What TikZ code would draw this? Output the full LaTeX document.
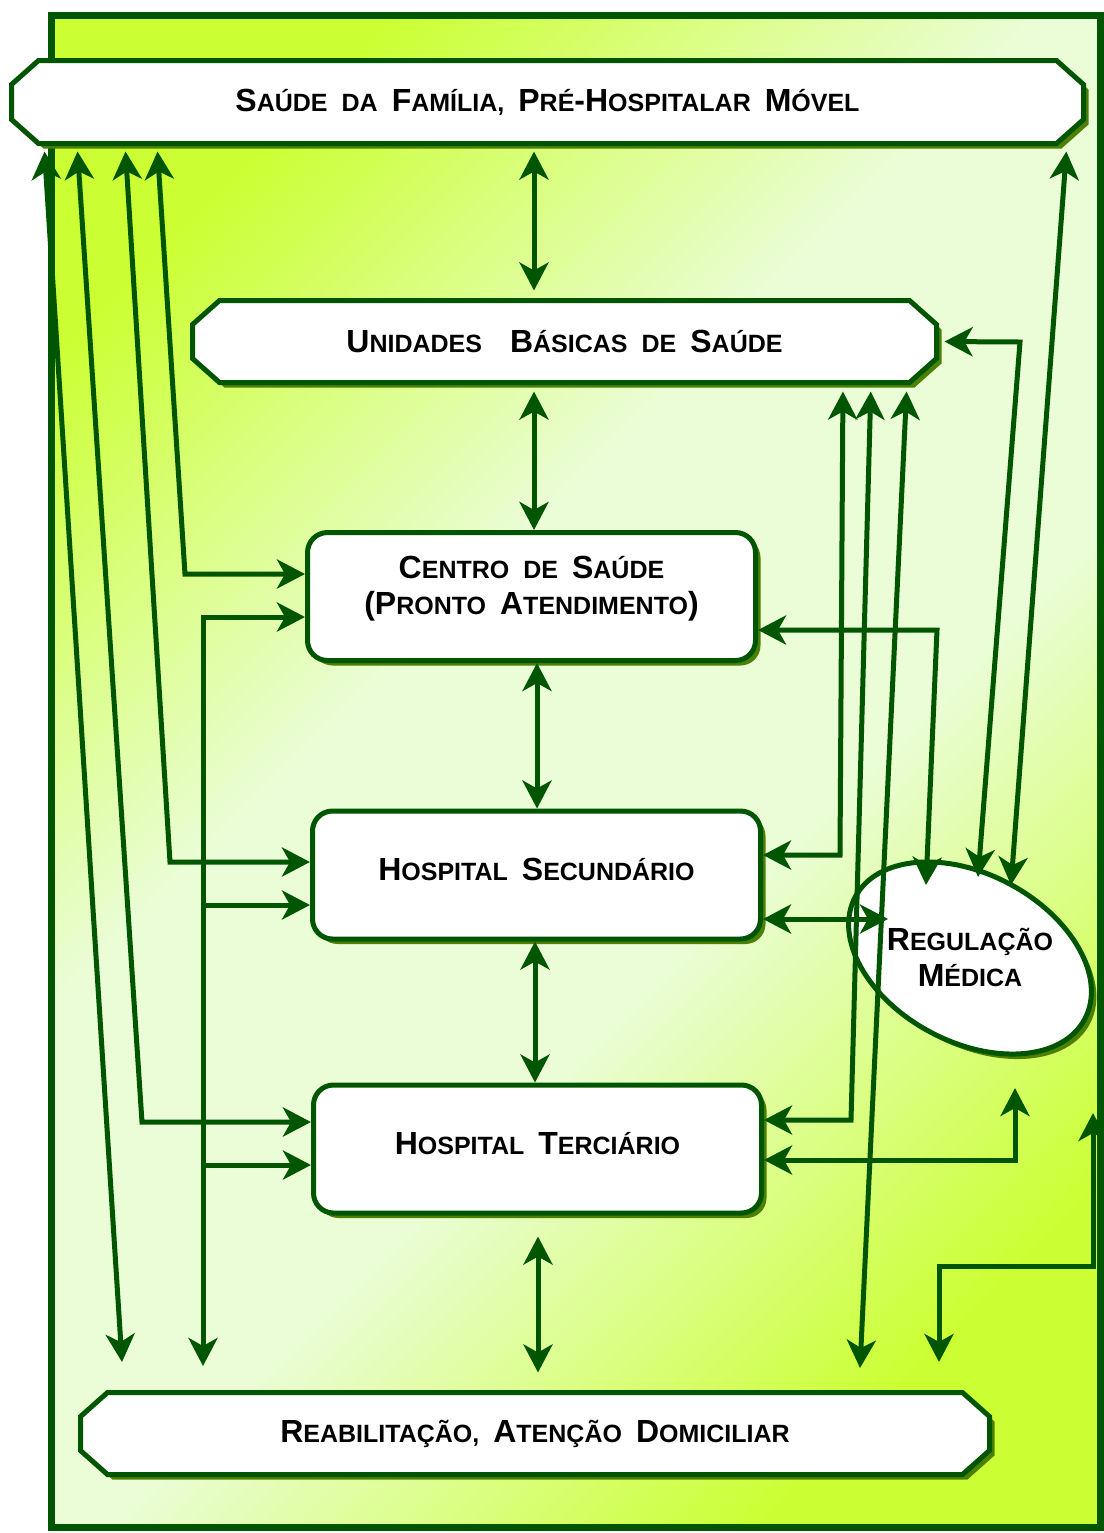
\documentclass[tikz,border=0pt]{standalone}
\usepackage{fontspec}
\setmainfont{Liberation Sans}
\usetikzlibrary{arrows.meta, shadows}

\definecolor{leaf}{RGB}{0,85,0}
\definecolor{moss}{RGB}{76,128,0}
\definecolor{limebright}{RGB}{204,255,51}
\definecolor{limepale}{RGB}{234,253,214}

\pgfdeclarehorizontalshading{diagfade}{100bp}{color(0bp)=(limebright); color(24bp)=(limebright);
  color(42bp)=(limepale); color(58bp)=(limepale); color(76bp)=(limebright); color(100bp)=(limebright)}

\pgfdeclarelayer{ground}
\pgfdeclarelayer{boxes}
\pgfsetlayers{ground,boxes,main}

\newcommand\sC[2]{#1{\fontsize{12.5}{15}\selectfont #2}}
\newcommand\sm[1]{{\fontsize{12.5}{15}\selectfont #1}}
\newcommand\gap{\hspace{7pt}}
% octagon behind a banner node
\newcommand\octagon[1]{%
  \path[octa] ([xshift=13.5pt]#1.north west) -- ([xshift=-13.5pt]#1.north east)
    -- ([yshift=-12pt]#1.north east) -- ([yshift=12pt]#1.south east)
    -- ([xshift=-13.5pt]#1.south east) -- ([xshift=13.5pt]#1.south west)
    -- ([yshift=12pt]#1.south west) -- ([yshift=-12pt]#1.north west) -- cycle;}

\tikzset{
  mossshadow/.style = {drop shadow={shadow xshift=2.5pt, shadow yshift=-2.5pt, fill=moss, opacity=1}},
  banner/.style = {rectangle, outer sep=0pt, minimum height=41.5pt, font=\fontsize{16}{18}\bfseries},
  octa/.style = {draw=leaf, line width=2.5pt, fill=white, mossshadow},
  unit/.style = {rectangle, rounded corners=10pt, draw=leaf, line width=2.5pt, fill=white,
                 minimum width=224pt, minimum height=64pt, text depth=6pt, align=center, mossshadow,
                 font=\fontsize{16}{18}\bfseries},
  link/.style = {draw=leaf, line width=2.5pt}
}

\begin{document}
\begin{tikzpicture}[x=0.5pt, y=-0.5pt, >={Stealth[length=14pt, width=14.5pt, inset=4pt]}]
\useasboundingbox (0,0) rectangle (1104,1533);
% frame
\begin{pgfonlayer}{ground}
\draw[draw=leaf, line width=3.5pt, shading=diagfade, shading angle=-45,
      drop shadow={shadow xshift=2pt, shadow yshift=-2pt, fill=moss, opacity=1}]
  (51,15) rectangle (1100,1527);
\end{pgfonlayer}

\node[banner, minimum width=536pt] (sf) at (547.5,102)
  {\sC{S}{AÚDE}\gap\sm{DA}\gap\sC{F}{AMÍLIA,}\gap\sC{P}{RÉ}-\sC{H}{OSPITALAR}\gap\sC{M}{ÓVEL}};
\node[banner, minimum width=372pt, minimum height=41pt] (ubs) at (564.5,341.5)
  {\sC{U}{NIDADES}\gap\gap\sC{B}{ÁSICAS}\gap\sm{DE}\gap\sC{S}{AÚDE}};
\node[banner, minimum width=454.5pt, minimum height=41pt] (rad) at (535,1433.5)
  {\sC{R}{EABILITAÇÃO,}\gap\sC{A}{TENÇÃO}\gap\sC{D}{OMICILIAR}};
\begin{pgfonlayer}{boxes}
\octagon{sf}
\octagon{ubs}
\octagon{rad}
\end{pgfonlayer}

\node[unit, text depth=11pt] (cs) at (531.5,596.5)
  {\sC{C}{ENTRO}\gap\sm{DE}\gap\sC{S}{AÚDE}\\(\sC{P}{RONTO}\gap\sC{A}{TENDIMENTO})};
\node[unit] (hs) at (536.5,875) {\sC{H}{OSPITAL}\gap\sC{S}{ECUNDÁRIO}};
\node[unit] (ht) at (537.5,1149) {\sC{H}{OSPITAL}\gap\sC{T}{ERCIÁRIO}};

% regulação: tilted ellipse, text kept level
\path[draw=leaf, line width=2.5pt, fill=white, mossshadow, rotate around={-28:(970,958)}]
  (970,958) ellipse [x radius=130, y radius=84];
\node[align=center, font=\fontsize{16}{18}\bfseries] (rm) at (970,957)
  {\sC{R}{EGULAÇÃO}\\\sC{M}{ÉDICA}};

% free ends
\coordinate (foot1) at (122,1362);
\coordinate (foot2) at (203,1366);
\coordinate (foot3) at (860,1368);
\coordinate (foot4) at (939,1362);
\coordinate (rg1) at (1011,885);
\coordinate (rg2) at (978,877);
\coordinate (rg3) at (926,885);
\coordinate (rg4) at (888,919);
\coordinate (rg5) at (1015,1088);
\coordinate (rg6) at (1093,1113);

% centre column
\draw[link, <->, shorten <=4pt, shorten >=5pt] (sf.south -| 534,0) -- (ubs.north -| 534,0);
\draw[link, <->, shorten <=4.5pt] (ubs.south -| 534,0) -- (cs.north -| 534,0);
\draw[link, <->] (cs.south -| 537,0) -- (hs.north -| 537,0);
\draw[link, <->] (hs.south -| 535,0) -- (ht.north -| 535,0);
\draw[link, <->] ([yshift=-10.5pt]ht.south -| 538,0) -- ([yshift=10pt]rad.north -| 538,0);

% left side
\draw[link, <->, shorten <=4pt] (sf.south -| 44,0) -- (foot1);
\draw[link, <->, shorten <=4pt] (sf.south -| 77,0) -- (142,1122) -- (ht.west |- 0,1122);
\draw[link, <->, shorten <=4pt] (sf.south -| 125,0) -- (170,862) -- (hs.west |- 0,862);
\draw[link, <->, shorten <=4pt] (sf.south -| 157,0) -- (185,574) -- (cs.west |- 0,574);
\draw[link, <->] (cs.west |- 0,617) -- (203,617) -- (foot2);
\draw[link, ->] (203,905) -- (hs.west |- 0,905);
\draw[link, ->] (203,1165) -- (ht.west |- 0,1165);

% right side
\draw[link, <->, shorten <=4pt] (sf.south -| 1067,0) -- (rg1);
\draw[link, <->, shorten <=4pt] (ubs.east) -- (1020,342) -- (rg2);
\draw[link, <->, shorten <=4.5pt] (ubs.south -| 843,0) -- (840,855) -- (hs.east |- 0,855);
\draw[link, <->, shorten <=4.5pt] (ubs.south -| 871,0) -- (851,1120) -- (ht.east |- 0,1120);
\draw[link, <->, shorten <=4.5pt] (ubs.south -| 907,0) -- (foot3);
\draw[link, <->] (cs.east |- 0,630) -- (937,630) -- (rg3);
\draw[link, <->] (hs.east |- rg4) -- (rg4);
\draw[link, <->] (ht.east |- 0,1160) -- (1015,1160) -- (rg5);
\draw[link, <->] (rg6) -- (1093,1266) -- (939,1266) -- (foot4);
\end{tikzpicture}
\end{document}
